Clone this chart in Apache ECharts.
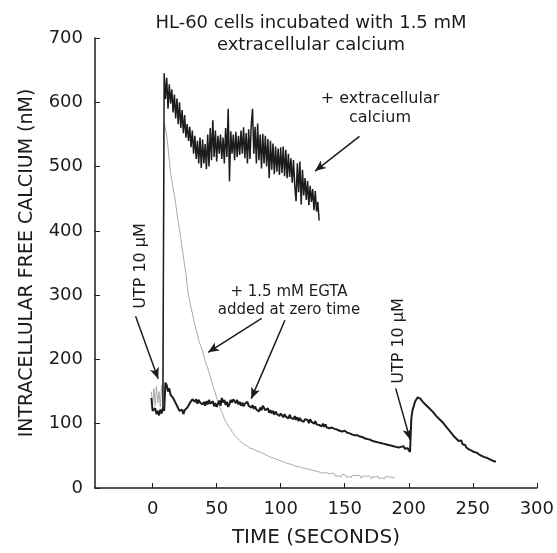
<!DOCTYPE html>
<html>
<head>
<meta charset="utf-8">
<script src="https://cdn.jsdelivr.net/npm/echarts@6/dist/echarts.min.js"></script>
<style>
  html, body { margin: 0; padding: 0; background: #fff; }
  #chart { width: 557px; height: 553px; }
</style>
</head>
<body>
<div id="chart"></div>
<script>
// sampling step of every trace (seconds)
const sampleStep = 1

const xTicks = [0, 50, 100, 150, 200, 250, 300]

// + extracellular calcium, starts at t = 8 s
const highStart = 8
const highValues = [
  122, 645,
  605, 638, 590, 628, 598, 620, 584, 612, 575, 606,
  566, 600, 560, 588, 552, 580, 545, 566, 540, 562,
  530, 556, 520, 548, 512, 540, 505, 545, 498, 542,
  505, 535, 496, 550, 500, 560, 510, 572, 515, 556,
  508, 548, 520, 550, 512, 545, 505, 560, 515, 590,
  477, 555, 520, 550, 510, 554, 515, 548, 518, 556,
  520, 561, 513, 552, 505, 558, 512, 565, 590, 520,
  562, 505, 567, 510, 550, 497, 551, 505, 548, 500,
  543, 482, 540, 495, 536, 488, 531, 492, 528, 487,
  530, 490, 531, 485, 526, 482, 520, 484, 513, 475,
  510, 470, 446, 505, 460, 508, 441, 495, 455, 482,
  448, 478, 440, 470, 445, 465, 432, 462, 430, 445,
  416
]

// + 1.5 mM EGTA, grey trace, starts at t = -1 s
const egtaGreyStart = -1
const egtaGreyValues = [
  150, 130, 155, 128, 158, 132, 150, 126, 160, 135,
  568, 560, 548, 530, 510, 490, 478, 466, 455, 442,
  428, 414, 402, 388, 374, 360, 346, 334, 315, 300,
  290, 280, 272, 262, 254, 246, 240, 230, 224, 218,
  213, 205, 198, 192, 186, 180, 173, 166, 160, 153,
  148, 140, 134, 128, 123, 118, 114, 108, 104, 100,
  97, 94, 91, 88, 85, 82, 80, 78, 76, 74,
  72, 70, 68, 67, 66, 65, 63, 62, 60, 61,
  58, 59, 56, 57, 55, 56, 53, 54, 51, 52,
  49, 50, 47, 48, 46, 47, 44, 45, 43, 44,
  41, 42, 40, 41, 38, 39, 37, 38, 35, 37,
  34, 35, 33, 34, 31, 33, 30, 32, 29, 31,
  28, 30, 27, 29, 26, 28, 25, 27, 24, 26,
  23, 25, 22, 24, 21, 23, 20, 24, 21, 22,
  19, 23, 20, 22, 18, 21, 19, 22, 17, 21,
  19, 21, 17, 20, 18, 21, 16, 20, 18, 19,
  16, 20, 17, 19, 15, 19, 17, 18, 15, 19,
  16, 18, 14, 18, 16, 17, 15, 18, 14, 17,
  16, 17, 14, 18, 15, 17, 14, 17, 15, 16,
  16
]

// + 1.5 mM EGTA, black trace, starts at t = -1 s
const egtaBlackStart = -1
const egtaBlackValues = [
  140, 120, 118, 124, 115, 120, 113, 122, 116, 125, 120,
  164, 160, 150, 155, 145, 148, 140, 138, 132, 128,
  125, 120, 117, 122, 115, 121, 119, 125, 128, 132,
  133, 138, 141, 134, 138, 131, 137, 133, 136, 130,
  134, 128, 135, 130, 137, 131, 129, 135, 127, 132,
  126, 131, 136, 128, 140, 133, 137, 129, 134, 126,
  131, 137, 133, 138, 136, 132, 137, 130, 134, 128,
  133, 127, 131, 129, 134, 128, 131, 125, 129, 123,
  127, 122, 124, 119, 125, 121, 128, 130, 121, 118,
  124, 117, 121, 116, 120, 114, 119, 115, 117, 112,
  116, 113, 110, 115, 111, 113, 108, 114, 109, 111,
  107, 112, 106, 110, 104, 109, 105, 108, 103, 107,
  104, 106, 101, 107, 103, 105, 100, 104, 99, 102,
  98, 101, 96, 100, 95, 99, 94, 97, 93, 96,
  94, 97, 92, 95, 91, 94, 89, 92, 88, 91,
  89, 90, 86, 88, 85, 87, 83, 86, 82, 84,
  82, 84, 80, 83, 79, 81, 77, 80, 76, 78,
  75, 77, 73, 76, 72, 75, 71, 73, 70, 72,
  69, 71, 68, 70, 67, 69, 66, 68, 65, 66,
  64, 67, 63, 66, 64, 62, 65, 61, 64, 62,
  60, 56, 108, 122, 128, 135, 138, 141, 144, 139,
  142, 134, 137, 130, 131, 126, 128, 122, 124, 118,
  117, 113, 114, 109, 110, 105, 104, 101, 98, 96,
  93, 91, 88, 86, 84, 81, 80, 77, 76, 73,
  71, 74, 68, 66, 67, 63, 64, 60, 61, 58,
  59, 56, 57, 55, 56, 52, 53, 50, 52, 48,
  50, 47, 48, 45, 46, 43, 44, 41, 42
]

// annotation arrows, [from, to] in data units (seconds, nM)
const arrows = [
  [[161.5, 547], [126.8, 493]],
  [[-13.3, 267], [4.3, 170]],
  [[85.1, 264], [43.3, 211]],
  [[103.3, 261], [77, 139]],
  [[189.8, 155], [201.1, 75]]
]

const FONT = 'DejaVu Sans'
const INK = '#1c1c1c'

const toPairs = (start, values) => values.map((v, i) => [start + i * sampleStep, v])

const chart = echarts.init(document.getElementById('chart'), null, { renderer: 'canvas' })

const annText = (text, x, y, size, rotate) => ({
  type: 'text',
  x: x,
  y: y,
  rotation: rotate ? Math.PI / 2 : 0,
  style: {
    text: text,
    font: size + 'px "' + FONT + '"',
    fill: INK,
    align: 'center',
    verticalAlign: 'middle',
    lineHeight: size + 3
  }
})

const option = {
  animation: false,
  backgroundColor: '#fff',
  title: {
    text: 'HL-60 cells incubated with 1.5 mM\nextracellular calcium',
    left: 311,
    top: 12,
    padding: 0,
    textAlign: 'center',
    textStyle: {
      fontFamily: FONT,
      fontSize: 18,
      fontWeight: 'normal',
      color: INK,
      lineHeight: 22
    }
  },
  grid: { left: 95, right: 16, top: 38, bottom: 60 },
  xAxis: {
    type: 'value',
    min: -45,
    max: 300,
    name: 'TIME (SECONDS)',
    nameLocation: 'middle',
    nameGap: 40,
    nameTextStyle: { fontFamily: FONT, fontSize: 20, color: INK },
    axisLine: { lineStyle: { color: INK, width: 1.5 } },
    axisTick: { inside: true, length: 5, customValues: xTicks, lineStyle: { color: INK } },
    axisLabel: { customValues: xTicks, margin: 12, fontFamily: FONT, fontSize: 18, color: INK },
    splitLine: { show: false }
  },
  yAxis: {
    type: 'value',
    min: 0,
    max: 700,
    interval: 100,
    name: 'INTRACELLULAR FREE CALCIUM (nM)',
    nameLocation: 'middle',
    nameGap: 58,
    nameTextStyle: { fontFamily: FONT, fontSize: 19, color: INK },
    axisLine: { show: true, onZero: false, lineStyle: { color: INK, width: 1.5 } },
    axisTick: { show: true, inside: true, length: 5, lineStyle: { color: INK } },
    axisLabel: { margin: 12, fontFamily: FONT, fontSize: 18, color: INK },
    splitLine: { show: false }
  },
  series: [
    {
      name: '+ 1.5 mM EGTA (grey)',
      type: 'line',
      data: toPairs(egtaGreyStart, egtaGreyValues),
      showSymbol: false,
      lineStyle: { color: '#a9a9a9', width: 1 },
      z: 1
    },
    {
      name: '+ 1.5 mM EGTA',
      type: 'line',
      data: toPairs(egtaBlackStart, egtaBlackValues),
      showSymbol: false,
      lineStyle: { color: INK, width: 2 },
      z: 2
    },
    {
      name: '+ extracellular calcium',
      type: 'line',
      data: toPairs(highStart, highValues),
      showSymbol: false,
      lineStyle: { color: INK, width: 1.5 },
      z: 3,
      markLine: {
        silent: true,
        symbol: ['none', 'arrow'],
        symbolSize: [7, 11],
        label: { show: false },
        lineStyle: { color: INK, width: 1.5, type: 'solid' },
        data: arrows.map(a => [{ coord: a[0] }, { coord: a[1] }])
      }
    }
  ],
  graphic: [
    annText('+ extracellular\ncalcium', 380, 108, 16),
    annText('UTP 10 \u03bcM', 141, 266, 16, true),
    annText('+ 1.5 mM EGTA\nadded at zero time', 289, 301, 15),
    annText('UTP 10 \u03bcM', 399, 341, 16, true)
  ]
}

chart.setOption(option)
</script>
</body>
</html>
